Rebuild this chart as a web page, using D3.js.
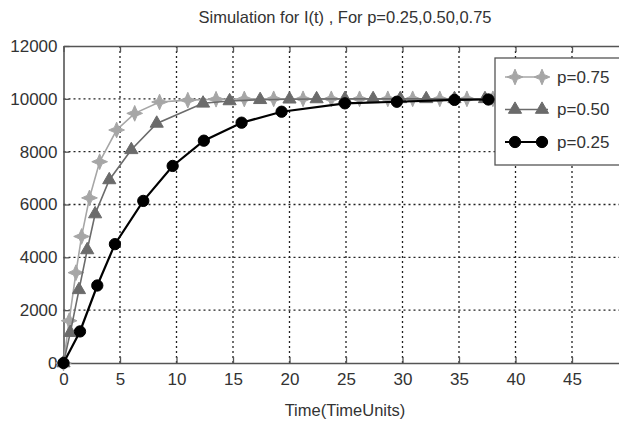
<!DOCTYPE html>
<html>
<head>
<meta charset="utf-8">
<script src="https://cdn.jsdelivr.net/npm/d3@7"></script>
<style>
  body { margin: 0; background: #fff; }
  svg { display: block; }
  text { font-family: "Liberation Sans Narrow", "Arial Narrow", "Liberation Sans", sans-serif; fill: #333; }
</style>
</head>
<body>
<div id="chart"></div>
<script>
// data (adaptive solver steps, so x spacing is uneven)
const tP75 = [0, 0.5, 1.1, 1.6, 2.3, 3.2, 4.7, 6.3, 8.5, 11.0, 13.5, 16.0, 18.6, 21.2, 23.7, 26.2, 28.7, 30.9, 33.3, 35.7, 38.0, 42, 46, 50];
const iP75 = [0, 1600, 3420, 4790, 6250, 7620, 8820, 9450, 9880, 9950, 9985, 9995, 10000, 10000, 10000, 10000, 10000, 10000, 10000, 10000, 10000, 10000, 10000, 10000];

const tP50 = [0, 0.6, 1.37, 2.1, 2.8, 4.05, 6.0, 8.25, 12.35, 14.7, 17.4, 20.0, 22.4, 24.9, 27.4, 29.8, 32.1, 34.6, 37.3, 42, 46, 50];
const iP50 = [0, 1150, 2770, 4280, 5640, 6930, 8070, 9070, 9830, 9920, 9965, 9985, 9995, 10000, 10000, 10000, 10000, 10000, 10000, 10000, 10000, 10000];

const tP25 = [0, 1.46, 2.99, 4.55, 7.06, 9.66, 12.42, 15.76, 19.3, 24.9, 29.5, 34.6, 37.6, 42, 46, 50];
const iP25 = [0, 1195, 2934, 4499, 6136, 7460, 8416, 9097, 9512, 9830, 9890, 9960, 9975, 9988, 9995, 10000];

const xTicks = [0, 5, 10, 15, 20, 25, 30, 35, 40, 45, 50];
const yTicks = [0, 2000, 4000, 6000, 8000, 10000, 12000];
const seriesNames = ["p=0.75", "p=0.50", "p=0.25"];

const width = 619, height = 422;
const plotLeft = 63.5, plotTop = 46, plotBottom = 363, plotRight = 628.5;

const svg = d3.select("#chart").append("svg")
  .attr("width", width).attr("height", height);

const x = d3.scaleLinear().domain([0, 50]).range([plotLeft, plotRight]);
const y = d3.scaleLinear().domain([0, 12000]).range([plotBottom, plotTop]);

// dotted grid
svg.append("g").selectAll("line").data(xTicks.slice(1)).join("line")
  .attr("x1", d => x(d)).attr("x2", d => x(d)).attr("y1", plotTop).attr("y2", plotBottom)
  .attr("stroke", "#222").attr("stroke-width", 1.3).attr("stroke-dasharray", "2,3");
svg.append("g").selectAll("line").data(yTicks.slice(1, -1)).join("line")
  .attr("y1", d => y(d)).attr("y2", d => y(d)).attr("x1", plotLeft).attr("x2", plotRight)
  .attr("stroke", "#222").attr("stroke-width", 1.3).attr("stroke-dasharray", "2,3");

// axes, ticks inward
const xAxis = svg.append("g").attr("transform", `translate(0,${plotBottom})`)
  .call(d3.axisBottom(x).tickValues(xTicks).tickSizeInner(-6).tickSizeOuter(0).tickPadding(10));
const xTop = svg.append("g").attr("transform", `translate(0,${plotTop})`)
  .call(d3.axisTop(x).tickValues(xTicks).tickSizeInner(-6).tickSizeOuter(0).tickFormat(""));
const yAxis = svg.append("g").attr("transform", `translate(${plotLeft},0)`)
  .call(d3.axisLeft(y).tickValues(yTicks).tickSizeInner(-6).tickSizeOuter(0).tickPadding(6).tickFormat(d3.format("d")));

[xAxis, xTop, yAxis].forEach(g => {
  g.select(".domain").attr("stroke", "#555").attr("stroke-width", 1.6);
  g.selectAll(".tick line").attr("stroke", "#555").attr("stroke-width", 1.3);
  g.selectAll("text").style("font-size", "17px").attr("fill", "#333");
});
xAxis.selectAll("text").attr("dy", "0.71em");

// 4-point star marker
const star4 = {
  draw(ctx, size) {
    const r = Math.sqrt(size) * 0.75, k = r * 0.3;
    ctx.moveTo(0, -r);
    ctx.lineTo(k, -k); ctx.lineTo(r, 0); ctx.lineTo(k, k);
    ctx.lineTo(0, r); ctx.lineTo(-k, k); ctx.lineTo(-r, 0); ctx.lineTo(-k, -k);
    ctx.closePath();
  }
};

const series = [
  { name: seriesNames[0], t: tP75, v: iP75, color: "#a6a6a6", lw: 1.6, sym: star4, size: 110 },
  { name: seriesNames[1], t: tP50, v: iP50, color: "#6b6b6b", lw: 1.6, sym: d3.symbolTriangle, size: 75 },
  { name: seriesNames[2], t: tP25, v: iP25, color: "#000000", lw: 2.2, sym: d3.symbolCircle, size: 100 }
];

const line = d3.line().x(d => x(d[0])).y(d => y(d[1]));

series.forEach(s => {
  const pts = s.t.map((t, i) => [t, s.v[i]]);
  svg.append("path").datum(pts).attr("d", line)
    .attr("fill", "none").attr("stroke", s.color).attr("stroke-width", s.lw);
  svg.append("g").selectAll("path").data(pts).join("path")
    .attr("transform", d => `translate(${x(d[0])},${y(d[1])})`)
    .attr("d", d3.symbol().type(s.sym).size(s.size))
    .attr("fill", s.color).attr("stroke", s.color).attr("stroke-width", 1);
});

// legend
const lg = svg.append("g");
lg.append("rect").attr("x", 495).attr("y", 58).attr("width", 150).attr("height", 107)
  .attr("fill", "#fff").attr("stroke", "#555").attr("stroke-width", 1.3);
series.forEach((s, i) => {
  const ly = 77 + i * 32.5;
  lg.append("line").attr("x1", 505).attr("x2", 548).attr("y1", ly).attr("y2", ly)
    .attr("stroke", s.color).attr("stroke-width", s.lw);
  [515, 542].forEach(mx => lg.append("path")
    .attr("transform", `translate(${mx},${ly})`)
    .attr("d", d3.symbol().type(s.sym).size(s.size))
    .attr("fill", s.color).attr("stroke", s.color));
  lg.append("text").attr("x", 557).attr("y", ly).attr("dy", "0.35em")
    .style("font-size", "17px").text(s.name);
});

// title and x label
svg.append("text").attr("x", 345).attr("y", 17).attr("dy", "0.35em").attr("text-anchor", "middle")
  .style("font-size", "16.5px").text("Simulation for I(t) , For p=0.25,0.50,0.75");
svg.append("text").attr("x", 345).attr("y", 410).attr("dy", "0.35em").attr("text-anchor", "middle")
  .style("font-size", "16.5px").text("Time(TimeUnits)");
</script>
</body>
</html>
